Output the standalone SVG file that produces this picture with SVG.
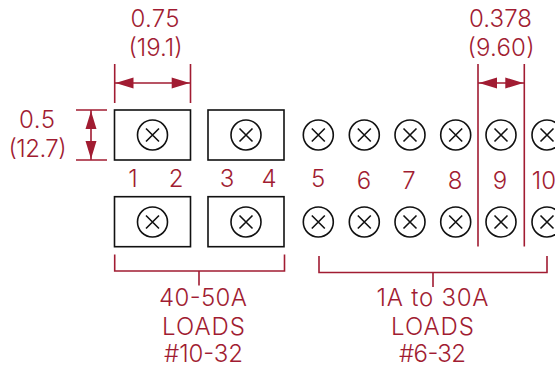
<svg xmlns="http://www.w3.org/2000/svg" width="555" height="368" viewBox="0 0 555 368">
<style>
text{font-family:"Inter","Noto Sans","Liberation Sans",sans-serif;font-size:24px;font-weight:300;fill:#a11c32;text-anchor:middle}
.box{fill:#fff;stroke:#111;stroke-width:1.6}
.c{fill:none;stroke:#111;stroke-width:1.6}
.d{fill:none;stroke:#a11c32;stroke-width:1.6}
.h{fill:#a11c32}
</style>
<defs>
<g id="screw"><circle class="c" r="15"/><path class="c" d="M-6.500-6.500L6.500 6.500M6.500-6.500L-6.500 6.500"/></g>
</defs>
<g id="connectors">
<path class="d" d="M114.700 64V103M190.500 64V103M114.700 83H190.500"/>
<path class="h" d="M115.500 83L133.500 77.500V88.500ZM189.700 83L171.700 77.500V88.500Z"/>
<path class="d" d="M76 110H107M76 160H107M91 110V160"/>
<path class="h" d="M91 111L85.500 129H96.500ZM91 159L85.500 141H96.500Z"/>
<path class="d" d="M478 64V246.500M524.300 64V246.500M478 83H524.300"/>
<path class="h" d="M479 83L497 77.500V88.500ZM523.300 83L505.300 77.500V88.500Z"/>
<path class="d" d="M114.700 254.500V271H284.500V254.500M199 271V285.500"/>
<path class="d" d="M319 256V272.500H547V256M433 272.500V287"/>
</g>
<g id="node-t1"><rect class="box" x="114.500" y="110" width="76" height="50"/><use href="#screw" x="152.500" y="135"/></g>
<g id="node-t2"><rect class="box" x="208" y="110" width="76" height="50"/><use href="#screw" x="246" y="135"/></g>
<g id="node-b1"><rect class="box" x="114.500" y="196.700" width="76" height="50"/><use href="#screw" x="152.500" y="222"/></g>
<g id="node-b2"><rect class="box" x="208" y="196.700" width="76" height="50"/><use href="#screw" x="246" y="222"/></g>
<g id="screws-top">
<use href="#screw" x="318.300" y="135"/><use href="#screw" x="364.300" y="135"/><use href="#screw" x="410" y="135"/><use href="#screw" x="455.700" y="135"/><use href="#screw" x="501" y="135"/><use href="#screw" x="547" y="135"/>
</g>
<g id="screws-bottom">
<use href="#screw" x="318.300" y="222"/><use href="#screw" x="364.300" y="222"/><use href="#screw" x="410" y="222"/><use href="#screw" x="455.700" y="222"/><use href="#screw" x="501" y="222"/><use href="#screw" x="547" y="222"/>
</g>
<g id="labels">
<text x="155" y="27" textLength="49">0.75</text>
<text x="155.500" y="56" textLength="54">(19.1)</text>
<text x="37" y="128" textLength="36">0.5</text>
<text x="37.500" y="157" textLength="58">(12.7)</text>
<text x="500.500" y="27" textLength="63">0.378</text>
<text x="501" y="56" textLength="67">(9.60)</text>
<text x="133" y="187">1</text><text x="176" y="187">2</text><text x="227" y="187">3</text><text x="269" y="187">4</text>
<text x="318" y="187">5</text><text x="364" y="189">6</text><text x="409" y="189">7</text><text x="455" y="189">8</text><text x="500" y="189">9</text><text x="544" y="189">10</text>
<text x="203" y="306" textLength="88">40-50A</text>
<text x="203.500" y="335" textLength="83">LOADS</text>
<text x="203.500" y="362" textLength="79">#10-32</text>
<text x="432.500" y="306" textLength="112">1A to 30A</text>
<text x="432.500" y="335" textLength="83">LOADS</text>
<text x="432.500" y="362" textLength="67">#6-32</text>
</g>
</svg>
